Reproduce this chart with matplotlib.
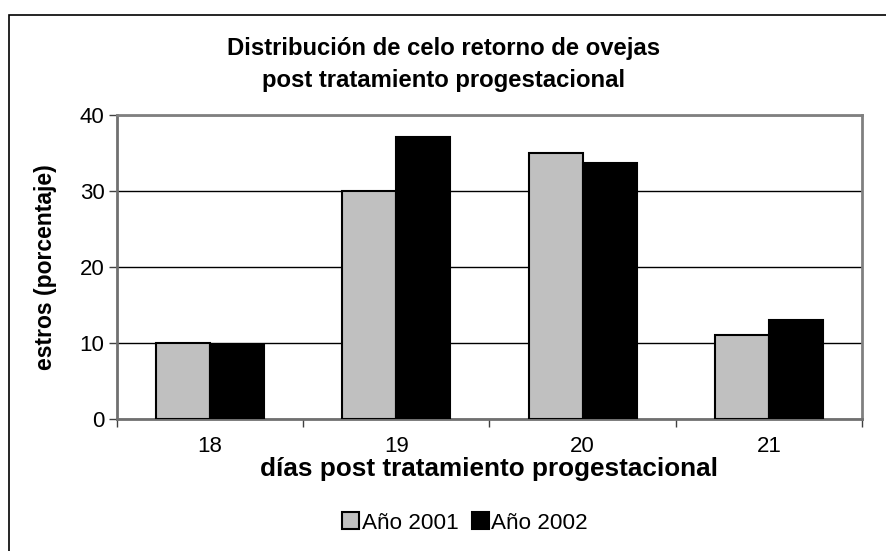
import numpy as np
import matplotlib.pyplot as plt
from matplotlib.patches import Rectangle

plt.rcParams['font.family'] = ['Liberation Sans', 'DejaVu Sans']

# data
dias = ["18", "19", "20", "21"]
anio_2001 = [10.0, 30.0, 35.0, 11.1]
anio_2002 = [9.7, 37.1, 33.7, 13.0]
series_labels = ["Año 2001", "Año 2002"]

gris = "#C0C0C0"
negro = "#000000"

fig = plt.figure(figsize=(8.87, 5.51), dpi=100)
ax = fig.add_axes([117 / 887, 1 - 419 / 551, (862 - 117) / 887, (419 - 115) / 551])

x = np.arange(len(dias))
w = 0.29
b1 = ax.bar(x - w / 2, anio_2001, width=w, color=gris, edgecolor=negro,
            linewidth=1.5, label=series_labels[0], zorder=3)
b2 = ax.bar(x + w / 2, anio_2002, width=w, color=negro, edgecolor=negro,
            linewidth=1.5, label=series_labels[1], zorder=3)

ax.set_xlim(-0.5, len(dias) - 0.5)
ax.set_ylim(0, 40)
ax.set_yticks([0, 10, 20, 30, 40])
ax.yaxis.grid(True, color="black", linewidth=1)
ax.set_axisbelow(True)

# excel style: ticks at category boundaries, labels in the middle
ax.set_xticks(np.arange(-0.5, len(dias), 1.0))
ax.set_xticklabels([])
ax.set_xticks(x, minor=True)
ax.set_xticklabels(dias, minor=True, fontsize=16)
ax.tick_params(axis="x", which="major", length=6, width=1, color="#404040", direction="out")
ax.tick_params(axis="x", which="minor", length=0, pad=12)
ax.tick_params(axis="y", length=6, width=1, color="#404040", labelsize=16, pad=3)

for side in ["top", "right"]:
    ax.spines[side].set_color("#808080")
    ax.spines[side].set_linewidth(2)
ax.spines["left"].set_color("#707070")
ax.spines["left"].set_linewidth(2)
ax.spines["bottom"].set_color("#707070")
ax.spines["bottom"].set_linewidth(2)

ax.set_xlabel("días post tratamiento progestacional", fontsize=18.8,
              fontweight="bold", labelpad=0)
ax.set_ylabel("estros (porcentaje)", fontsize=16.5, fontweight="bold")
ax.yaxis.set_label_coords(-0.08, 0.5)

fig.text(0.5, 1 - 48 / 551, "Distribución de celo retorno de ovejas",
         ha="center", va="center", fontsize=17.2, fontweight="bold")
fig.text(0.5, 1 - 81 / 551, "post tratamiento progestacional",
         ha="center", va="center", fontsize=17.2, fontweight="bold")

fig.legend(handles=[b1, b2], loc="center", bbox_to_anchor=(465 / 887, 1 - 523 / 551),
           ncol=2, frameon=False, fontsize=16.2, handlelength=0.75, handleheight=0.75,
           handletextpad=0.1, columnspacing=0.6)

# outer chart border
fig.patches.append(Rectangle((9 / 887, -0.1), 1.2, 1 - 15 / 551 + 0.1,
                             transform=fig.transFigure, fill=False,
                             edgecolor="black", linewidth=1.2))

fig.savefig("out.png", dpi=100)
